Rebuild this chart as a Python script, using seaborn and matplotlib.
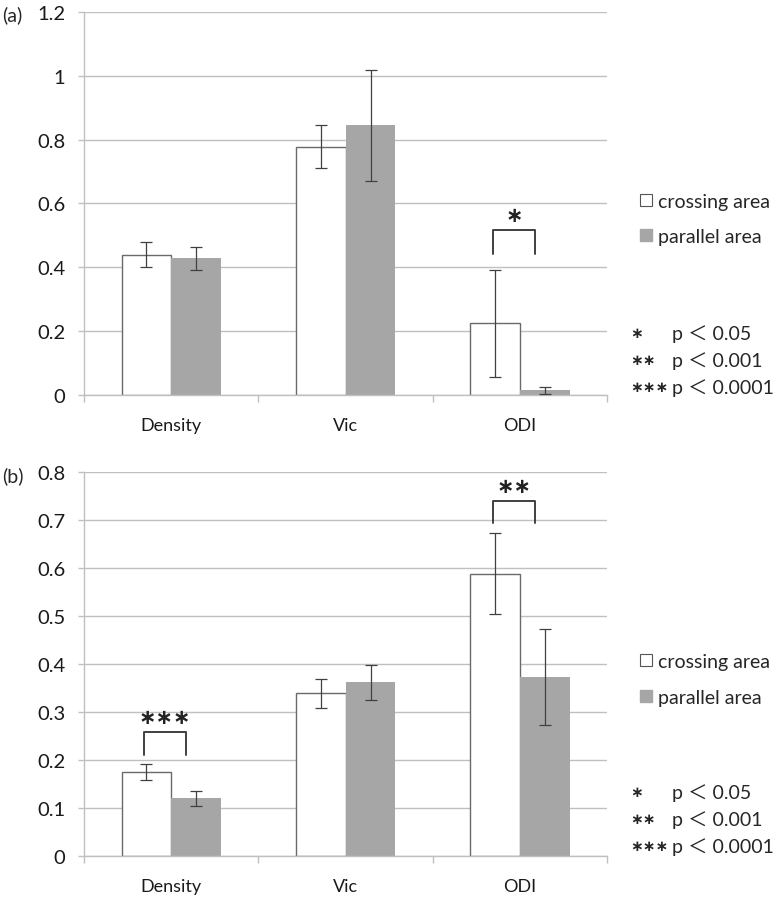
import numpy as np
import pandas as pd
import seaborn as sns
import matplotlib
matplotlib.use("Agg")
import matplotlib.pyplot as plt
from matplotlib.lines import Line2D

metrics = ["Density", "Vic", "ODI"]
areas = ["crossing area", "parallel area"]

# panel (a)
a_crossing = [0.44, 0.778, 0.225]
a_parallel = [0.428, 0.845, 0.015]
a_crossing_err = [0.04, 0.068, 0.168]
a_parallel_err = [0.036, 0.174, 0.011]
a_ticks = [0, 0.2, 0.4, 0.6, 0.8, 1.0, 1.2]
a_ticklabels = ["0", "0.2", "0.4", "0.6", "0.8", "1", "1.2"]
a_sig = [(2, "∗", 0.442, 0.517)]

# panel (b)
b_crossing = [0.175, 0.339, 0.589]
b_parallel = [0.12, 0.362, 0.373]
b_crossing_err = [0.017, 0.031, 0.085]
b_parallel_err = [0.015, 0.036, 0.1]
b_ticks = [0, 0.1, 0.2, 0.3, 0.4, 0.5, 0.6, 0.7, 0.8]
b_ticklabels = ["0", "0.1", "0.2", "0.3", "0.4", "0.5", "0.6", "0.7", "0.8"]
b_sig = [(0, "∗∗∗", 0.211, 0.259), (2, "∗∗", 0.694, 0.741)]

p_stars = ["∗", "∗∗", "∗∗∗"]
p_texts = ["p ＜ 0.05", "p ＜ 0.001", "p ＜ 0.0001"]

sns.set_theme(style="white")
plt.rcParams["font.family"] = ["Lato", "Noto Sans CJK JP", "DejaVu Sans"]

GRID = "#c0c0c0"
DARK = "#404040"
GRAY = "#a6a6a6"


def draw_panel(ax, crossing, parallel, c_err, p_err, ticks, ticklabels, sig):
    df = pd.DataFrame({
        "metric": metrics * 2,
        "area": [areas[0]] * 3 + [areas[1]] * 3,
        "value": crossing + parallel,
    })
    sns.barplot(data=df, x="metric", y="value", hue="area", order=metrics,
                hue_order=areas, palette={areas[0]: "white", areas[1]: GRAY},
                width=0.57, errorbar=None, legend=False, ax=ax, zorder=2)
    for p in ax.containers[0]:
        p.set_edgecolor("#6a6a6a")
        p.set_linewidth(1.0)
    for p in ax.containers[1]:
        p.set_edgecolor(GRAY)
        p.set_linewidth(0)
    for cont, errs in zip(ax.containers, [c_err, p_err]):
        xs = [p.get_x() + p.get_width() / 2 for p in cont]
        ys = [p.get_height() for p in cont]
        ax.errorbar(xs, ys, yerr=errs, fmt="none", ecolor=DARK,
                    elinewidth=0.9, capsize=4.5, capthick=0.9, zorder=3)

    for idx, label, lo, hi in sig:
        x0, x1 = idx - 0.155, idx + 0.085
        ax.plot([x0, x0, x1, x1], [lo, hi, hi, lo], color=DARK, lw=1.4,
                zorder=4, clip_on=False)
        ax.text((x0 + x1) / 2, hi + (ticks[-1] * 0.012), label, ha="center",
                va="bottom", fontsize=15, fontweight="bold",
                family="DejaVu Sans", color="#222222")

    ax.set_xlim(-0.5, 2.5)
    ax.set_ylim(ticks[0], ticks[-1])
    ax.set_yticks(ticks)
    ax.set_yticklabels(ticklabels)
    ax.set_xticks([0, 1, 2])
    ax.set_xticklabels(metrics)
    ax.set_xticks([-0.5, 0.5, 1.5, 2.5], minor=True)
    ax.set_xlabel("")
    ax.set_ylabel("")
    ax.yaxis.grid(True, color=GRID, lw=1.0, zorder=0)
    ax.set_axisbelow(True)
    for s in ["top", "right"]:
        ax.spines[s].set_visible(False)
    ax.spines["left"].set_color(GRID)
    ax.spines["bottom"].set_color(GRID)
    ax.spines["left"].set_linewidth(1.0)
    ax.spines["bottom"].set_linewidth(1.0)
    ax.tick_params(axis="y", which="major", left=True, length=4.5, width=1,
                   color=GRID, pad=9, labelsize=14.5, labelcolor="#1a1a1a")
    ax.tick_params(axis="x", which="major", bottom=False, length=0, pad=16,
                   labelsize=13, labelcolor="#1a1a1a")
    ax.tick_params(axis="x", which="minor", bottom=True, length=5, width=1,
                   color=GRID)

    handles = [
        Line2D([], [], marker="s", ls="none", markersize=9,
               markerfacecolor="white", markeredgecolor="#555555",
               markeredgewidth=0.8),
        Line2D([], [], marker="s", ls="none", markersize=9,
               markerfacecolor=GRAY, markeredgecolor=GRAY),
    ]
    ax.legend(handles, areas, loc="center left", bbox_to_anchor=(1.06, 0.46),
              frameon=False, fontsize=14, handlelength=0.7, handletextpad=0.3,
              labelspacing=0.95, borderaxespad=0, borderpad=0)


fig = plt.figure(figsize=(7.73, 9.04), dpi=100)
ax_a = fig.add_axes([0.1087, 0.562, 0.677, 0.4237])
ax_b = fig.add_axes([0.1087, 0.052, 0.677, 0.4244])

draw_panel(ax_a, a_crossing, a_parallel, a_crossing_err, a_parallel_err,
           a_ticks, a_ticklabels, a_sig)
draw_panel(ax_b, b_crossing, b_parallel, b_crossing_err, b_parallel_err,
           b_ticks, b_ticklabels, b_sig)

fig.text(0.003, 1 - 15 / 904, "(a)", fontsize=14, va="center", ha="left")
fig.text(0.003, 1 - 476 / 904, "(b)", fontsize=14, va="center", ha="left")

# significance key
for ys in [(334, 361, 388), (793, 820, 847)]:
    for y, star, txt in zip(ys, p_stars, p_texts):
        fig.text(630 / 773, 1 - y / 904, star, fontsize=11, fontweight="bold",
                 family="DejaVu Sans", va="center", ha="left")
        fig.text(672 / 773, 1 - y / 904, txt, fontsize=14, va="center",
                 ha="left")

fig.savefig("out.png", dpi=100)
